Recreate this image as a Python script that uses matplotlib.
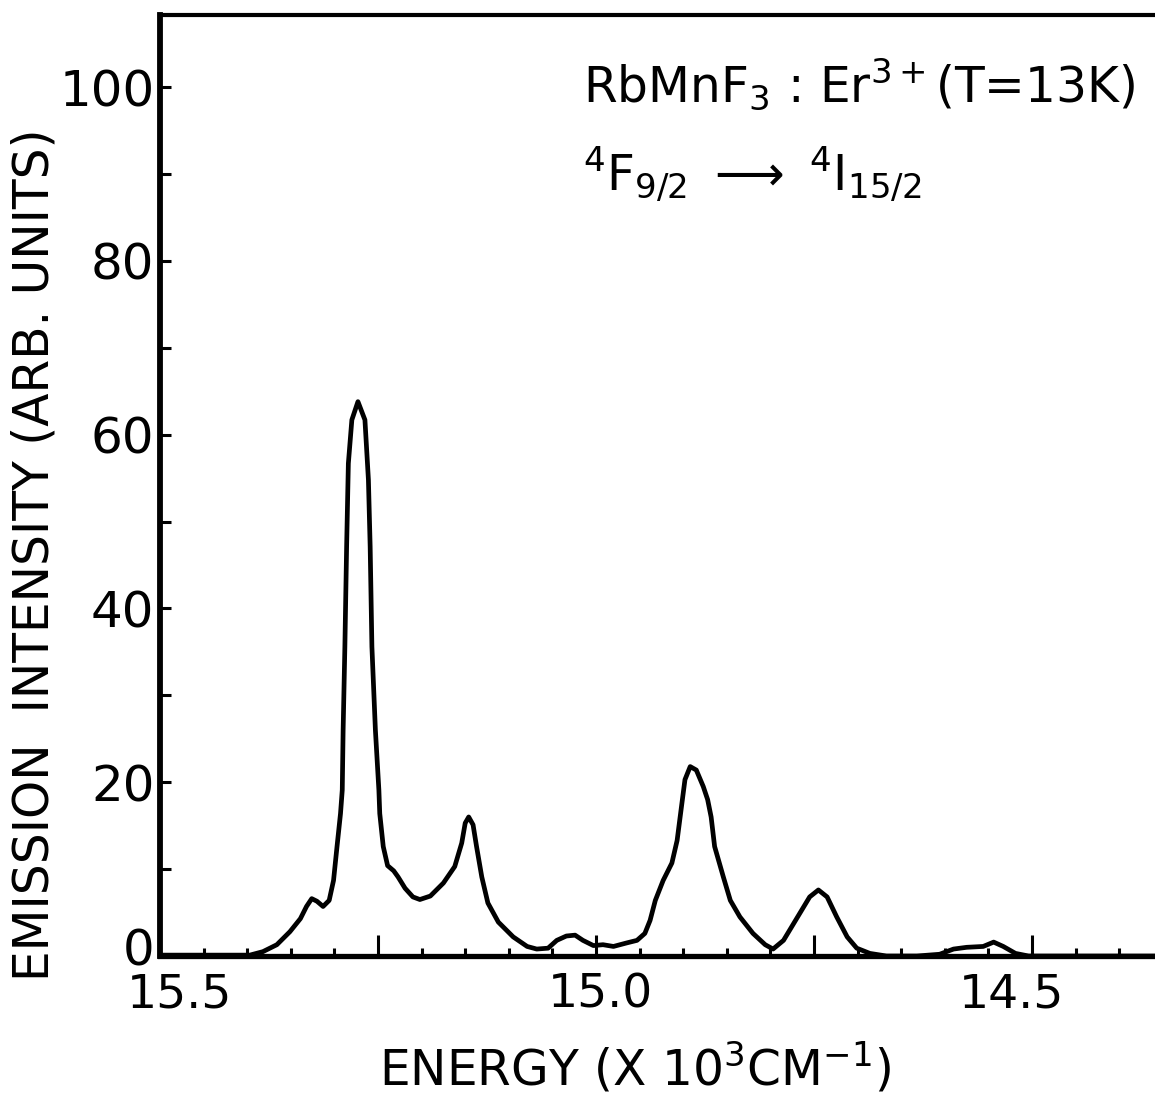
import matplotlib
matplotlib.use("Agg")
import numpy as np
from matplotlib import pyplot as plt
from matplotlib import transforms
from matplotlib.ticker import MultipleLocator, FixedLocator, FixedFormatter

# Emission spectrum, energy in 10^3 cm^-1 and intensity in arbitrary units
energy = [15.500, 15.430, 15.397, 15.382, 15.366, 15.351, 15.339, 15.332, 15.326,
          15.320, 15.313, 15.306, 15.301, 15.297, 15.293, 15.291, 15.290, 15.288,
          15.286, 15.284, 15.280, 15.273, 15.265, 15.261, 15.259, 15.257, 15.253,
          15.249, 15.248, 15.244, 15.239, 15.232, 15.227, 15.219, 15.210, 15.202,
          15.190, 15.175, 15.162, 15.154, 15.150, 15.146, 15.141, 15.137, 15.131,
          15.124, 15.112, 15.095, 15.079, 15.068, 15.055, 15.045, 15.034, 15.024,
          15.015, 15.003, 14.992, 14.980, 14.965, 14.953, 14.944, 14.938, 14.932,
          14.923, 14.913, 14.907, 14.902, 14.898, 14.892, 14.885, 14.877, 14.872,
          14.868, 14.864, 14.854, 14.846, 14.835, 14.820, 14.806, 14.797, 14.785,
          14.770, 14.755, 14.745, 14.735, 14.724, 14.712, 14.701, 14.686, 14.667,
          14.632, 14.606, 14.590, 14.575, 14.556, 14.544, 14.533, 14.519, 14.504,
          14.359]
intensity = [0.1, 0.1, 0.1, 0.5, 1.3, 2.8, 4.3, 5.7, 6.6,
             6.3, 5.7, 6.4, 8.7, 12.6, 16.4, 19.1, 26.0, 35.6,
             47.1, 56.7, 61.7, 63.8, 61.7, 54.8, 47.1, 35.6, 26.0,
             19.1, 16.4, 12.6, 10.4, 9.8, 9.1, 7.8, 6.8, 6.5,
             6.9, 8.4, 10.3, 13.0, 15.3, 16.0, 15.1, 12.6, 9.1,
             6.1, 3.9, 2.2, 1.1, 0.8, 0.9, 1.8, 2.3, 2.4,
             1.8, 1.2, 1.3, 1.1, 1.5, 1.8, 2.6, 4.1, 6.4,
             8.7, 10.7, 13.3, 17.2, 20.3, 21.8, 21.4, 19.5, 18.0,
             16.0, 12.6, 9.1, 6.4, 4.5, 2.6, 1.3, 0.8, 1.8,
             4.3, 6.8, 7.6, 6.8, 4.5, 2.2, 0.9, 0.3, 0.0,
             0.0, 0.2, 0.8, 1.0, 1.1, 1.6, 1.1, 0.3, 0.0,
             0.0]

x_ticks = [15.5, 15.25, 15.0, 14.75, 14.5]
x_labels = ["15.5", "", "15.0", "", "14.5"]
y_ticks = [0, 20, 40, 60, 80, 100]

plt.rcParams['font.family'] = ['DejaVu Sans']
plt.rcParams['mathtext.fontset'] = 'dejavusans'

fig = plt.figure(figsize=(11.55, 10.99), dpi=100)
ax = fig.add_axes([160 / 1155, 143 / 1099, 995 / 1155, 941 / 1099])

ax.plot(energy, intensity, color='black', lw=3.4, solid_capstyle='round', solid_joinstyle='round')

ax.set_xlim(15.5, 14.359)
ax.set_ylim(0, 108.3)

ax.spines['right'].set_visible(False)
ax.spines['left'].set_linewidth(4.2)
ax.spines['bottom'].set_linewidth(3.8)
ax.spines['top'].set_linewidth(3.0)

ax.xaxis.set_major_locator(FixedLocator(x_ticks))
ax.xaxis.set_major_formatter(FixedFormatter(x_labels))
ax.xaxis.set_minor_locator(MultipleLocator(0.05))
ax.yaxis.set_major_locator(FixedLocator(y_ticks))
ax.yaxis.set_minor_locator(MultipleLocator(10))

ax.tick_params(axis='x', which='major', direction='in', length=15, width=2.2,
               labelsize=34, pad=12, top=False)
ax.tick_params(axis='x', which='minor', direction='in', length=6, width=2.2, top=False)
ax.tick_params(axis='y', which='both', direction='in', length=8, width=2.2,
               labelsize=36, pad=4, right=False)

# hand-lettered labels sit a little off their ticks
label_shift = {"15.5": 14, "15.0": 3, "14.5": -15}
for lab in ax.get_xticklabels():
    dx = label_shift.get(lab.get_text(), 0)
    lab.set_transform(lab.get_transform() + transforms.ScaledTranslation(dx / 72, 0, fig.dpi_scale_trans))
for lab in ax.get_yticklabels():
    if lab.get_text() == "0":
        lab.set_transform(lab.get_transform() + transforms.ScaledTranslation(0, 7 / 72, fig.dpi_scale_trans))

fig.text(35 / 1155, 1 - 555 / 1099, "EMISSION  INTENSITY (ARB. UNITS)",
         rotation=90, ha='center', va='center', fontsize=35)
fig.text(635 / 1155, 1 - 1068 / 1099, r"ENERGY (X 10$^3$CM$^{-1}$)",
         ha='center', va='center', fontsize=35)

fig.text(583 / 1155, 1 - 103 / 1099, r"RbMnF$_3$ : Er$^{3+}$(T=13K)",
         ha='left', va='baseline', fontsize=35)
fig.text(583 / 1155, 1 - 190 / 1099, r"$^4$F$_{9/2}$ $\longrightarrow$ $^4$I$_{15/2}$",
         ha='left', va='baseline', fontsize=35)

fig.savefig("out.png", dpi=100, facecolor='white')
